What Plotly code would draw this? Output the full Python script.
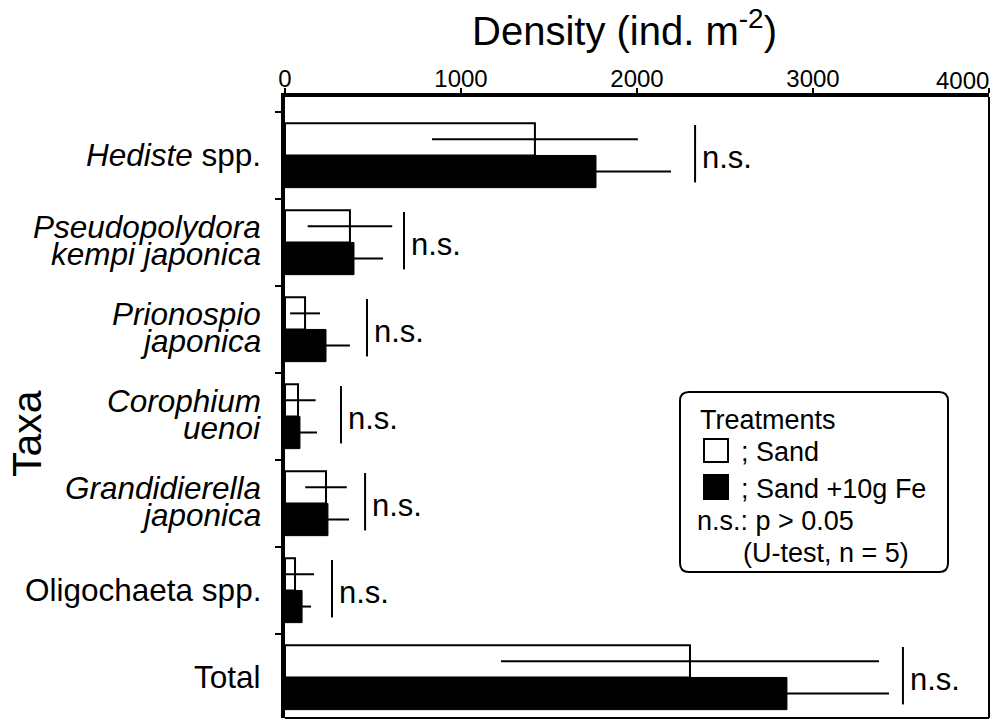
import plotly.graph_objects as go

# ---- data ----
categories = ["Hediste", "Pseudopolydora", "Prionospio", "Corophium",
              "Grandidierella", "Oligochaeta", "Total"]
label_lines = [
    ["<i>Hediste</i> spp."],
    ["<i>Pseudopolydora</i>", "<i>kempi japonica</i>"],
    ["<i>Prionospio</i>", "<i>japonica</i>"],
    ["<i>Corophium</i>", "<i>uenoi</i>"],
    ["<i>Grandidierella</i>", "<i>japonica</i>"],
    ["Oligochaeta spp."],
    ["Total"],
]
sand_mean = [1420, 369, 114, 74, 233, 57, 2301]
sand_sd = [585, 240, 85, 100, 118, 108, 1074]
fe_mean = [1767, 392, 233, 85, 244, 97, 2852]
fe_sd = [426, 165, 136, 97, 120, 51, 580]
ns_x = [2330, 676, 466, 318, 455, 267, 3511]
x_ticks = [0, 1000, 2000, 3000, 4000]
x_ticktext = ["0", "1000", "2000", "3000", "4000"]

FONT = "Liberation Sans, Arial, sans-serif"
W, H = 995, 720
ML, MR, MT, MB = 285, 6, 97, 2
PW, PH = W - ML - MR, H - MT - MB


def px(X):
    return (X - ML) / PW


def py(Y):
    return (H - MB - Y) / PH


fig = go.Figure()
fig.add_trace(go.Bar(
    y=categories, x=sand_mean, orientation="h", name="Sand",
    marker=dict(color="white", line=dict(color="black", width=2)),
    error_x=dict(type="data", array=sand_sd, color="black", thickness=2, width=0),
))
fig.add_trace(go.Bar(
    y=categories, x=fe_mean, orientation="h", name="Sand +10g Fe",
    marker=dict(color="black", line=dict(color="black", width=1)),
    error_x=dict(type="data", array=fe_sd, color="black", thickness=2, width=0),
))

shapes = []
annotations = []

# n.s. markers
for i, xv in enumerate(ns_x):
    shapes.append(dict(type="line", xref="x", yref="y", x0=xv, x1=xv,
                       y0=i - 0.35, y1=i + 0.31, line=dict(color="black", width=2)))
    annotations.append(dict(xref="x", yref="y", x=xv, y=i, text="n.s.",
                            xanchor="left", yanchor="middle", xshift=5, yshift=-2,
                            showarrow=False, font=dict(size=31, color="black", family=FONT)))

# category labels (tight two-line leading as in the original)
for i, lines in enumerate(label_lines):
    if len(lines) == 1:
        offs = [0]
    else:
        offs = [15, -12]
    for ln, off in zip(lines, offs):
        annotations.append(dict(xref="paper", yref="y", x=px(263), y=i, text=ln,
                                xanchor="right", yanchor="middle", yshift=off,
                                showarrow=False,
                                font=dict(size=31.5, color="black", family=FONT)))

# last x tick label, kept inside the figure (right-aligned at its tick)
tick_font = dict(size=24, color="black", family=FONT)
annotations.append(dict(xref="x", yref="paper", x=x_ticks[-1], y=py(80),
                        text=x_ticktext[-1], xanchor="right", yanchor="middle",
                        xshift=2, showarrow=False, font=tick_font))
shown_ticktext = x_ticktext[:-1] + [""]

# frame right/bottom
shapes.append(dict(type="line", xref="paper", yref="paper", x0=1, x1=1, y0=0, y1=1,
                   line=dict(color="black", width=2)))
shapes.append(dict(type="line", xref="paper", yref="paper", x0=0, x1=1, y0=0, y1=0,
                   line=dict(color="black", width=2)))

# legend box (rounded)
x0, x1, y0, y1, r = 680, 948, 392, 572, 9
path = (f"M {px(x0 + r)} {py(y0)} L {px(x1 - r)} {py(y0)} "
        f"Q {px(x1)} {py(y0)} {px(x1)} {py(y0 + r)} "
        f"L {px(x1)} {py(y1 - r)} Q {px(x1)} {py(y1)} {px(x1 - r)} {py(y1)} "
        f"L {px(x0 + r)} {py(y1)} Q {px(x0)} {py(y1)} {px(x0)} {py(y1 - r)} "
        f"L {px(x0)} {py(y0 + r)} Q {px(x0)} {py(y0)} {px(x0 + r)} {py(y0)} Z")
shapes.append(dict(type="path", xref="paper", yref="paper", path=path,
                   fillcolor="white", line=dict(color="black", width=2), layer="above"))
shapes.append(dict(type="rect", xref="paper", yref="paper",
                   x0=px(704), x1=px(728), y0=py(439), y1=py(462),
                   fillcolor="white", line=dict(color="black", width=2), layer="above"))
shapes.append(dict(type="rect", xref="paper", yref="paper",
                   x0=px(704), x1=px(728), y0=py(475), y1=py(499),
                   fillcolor="black", line=dict(color="black", width=2), layer="above"))

leg_font = dict(size=27, color="black", family=FONT)
for txt, X, Y in [("Treatments", 698, 420), ("; Sand", 739, 452),
                  ("; Sand +10g Fe", 739, 489), ("n.s.: p > 0.05", 695, 521),
                  ("(U-test, n = 5)", 741, 553)]:
    annotations.append(dict(xref="paper", yref="paper", x=px(X), y=py(Y), text=txt,
                            xanchor="left", yanchor="middle", showarrow=False,
                            font=leg_font))

# titles
annotations.append(dict(xref="paper", yref="paper", x=px(624), y=py(28),
                        text="Density (ind. m<sup>-2</sup>)", xanchor="center",
                        yanchor="middle", showarrow=False,
                        font=dict(size=40, color="black", family=FONT)))
annotations.append(dict(xref="paper", yref="paper", x=px(27), y=py(434), text="Taxa",
                        textangle=-90, xanchor="center", yanchor="middle",
                        showarrow=False, font=dict(size=41, color="black", family=FONT)))

fig.update_layout(
    width=W, height=H,
    margin=dict(l=ML, r=MR, t=MT, b=MB),
    paper_bgcolor="white", plot_bgcolor="white",
    barmode="group", bargap=0.26, bargroupgap=0,
    showlegend=False,
    shapes=shapes, annotations=annotations,
    font=dict(family=FONT, color="black"),
    xaxis=dict(side="top", range=[0, 4000], tickvals=x_ticks, ticktext=shown_ticktext,
               ticks="outside", ticklen=5, tickwidth=2, tickcolor="black",
               ticklabelstandoff=-9,
               showline=True, linewidth=4, linecolor="black",
               showgrid=False, zeroline=False,
               tickfont=tick_font),
    yaxis=dict(type="category", categoryorder="array", categoryarray=categories,
               range=[6.466, -0.672], tickson="boundaries",
               ticks="outside", ticklen=6, tickwidth=2, tickcolor="black",
               showticklabels=False, showline=True, linewidth=4, linecolor="black",
               showgrid=False, zeroline=False),
)

fig.write_html("out.html", config={"displayModeBar": False},
               post_script="document.body.style.margin='0px';"
                           "document.body.style.overflow='hidden';")
